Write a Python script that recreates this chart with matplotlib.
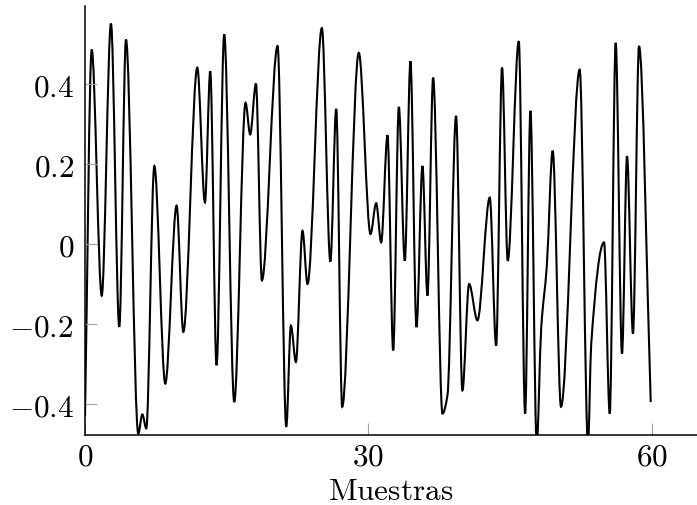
import numpy as np
import matplotlib
matplotlib.use('Agg')
import matplotlib.pyplot as plt
from matplotlib.path import Path
from matplotlib.patches import PathPatch

plt.rcParams['mathtext.fontset'] = 'cm'
plt.rcParams['font.family'] = 'serif'

# values (sample position, amplitude)
muestras = [0.0, 0.71, 1.77, 2.75, 3.63, 4.34, 5.64, 6.07, 6.49, 7.34, 8.50,
            9.70, 10.41, 11.89, 12.70, 13.26, 13.93, 14.74, 15.80, 17.00, 17.49,
            18.10, 18.73, 20.39, 21.31, 21.80, 22.33, 23.03, 23.56, 25.08, 25.98,
            26.60, 27.23, 28.99, 30.23, 30.83, 31.36, 32.03, 32.63, 33.23, 33.86,
            34.46, 35.10, 35.73, 36.26, 36.86, 37.85, 38.38, 39.29, 39.96, 40.67,
            41.55, 42.86, 43.53, 44.16, 44.76, 45.93, 46.60, 47.16, 47.83, 48.30,
            48.90, 49.52, 50.40, 52.38, 53.26, 53.60, 54.96, 55.56, 56.19, 56.86,
            57.39, 58.02, 58.66, 59.90]
amplitud = [-0.430, 0.486, -0.129, 0.551, -0.207, 0.511, -0.474, -0.426, -0.461, 0.195, -0.349,
            0.096, -0.220, 0.441, 0.104, 0.432, -0.303, 0.524, -0.395, 0.353, 0.274,
            0.401, -0.091, 0.495, -0.457, -0.204, -0.295, 0.033, -0.100, 0.540, -0.044,
            0.338, -0.407, 0.478, 0.025, 0.102, 0.004, 0.272, -0.266, 0.343, -0.042,
            0.457, -0.208, 0.195, -0.129, 0.416, -0.424, -0.378, 0.320, -0.366, -0.100,
            -0.191, 0.116, -0.254, 0.441, -0.042, 0.507, -0.424, 0.333, -0.500, -0.212,
            -0.054, 0.233, -0.407, 0.436, -0.500, -0.250, 0.004, -0.424, 0.503, -0.274,
            0.220, -0.224, 0.495, -0.395]

xticks = [0, 30, 60]
yticks = [-0.4, -0.2, 0, 0.2, 0.4]
ytick_labels = ['$-0.4$', '$-0.2$', '$0$', '$0.2$', '$0.4$']


def smooth_path(x, y):
    # smooth line through the points (like pgfplots "smooth"), drawn as bezier curves
    x = np.asarray(x, float)
    y = np.asarray(y, float)
    h = np.diff(x)
    d = np.diff(y) / h
    m = np.zeros_like(y)
    m[0], m[-1] = d[0], d[-1]
    for i in range(1, len(x) - 1):
        if d[i - 1] * d[i] > 0:
            w1 = 2 * h[i] + h[i - 1]
            w2 = h[i] + 2 * h[i - 1]
            m[i] = (w1 + w2) / (w1 / d[i - 1] + w2 / d[i])
    verts = [(x[0], y[0])]
    codes = [Path.MOVETO]
    for i in range(len(x) - 1):
        verts += [(x[i] + h[i] / 3, y[i] + m[i] * h[i] / 3),
                  (x[i + 1] - h[i] / 3, y[i + 1] - m[i + 1] * h[i] / 3),
                  (x[i + 1], y[i + 1])]
        codes += [Path.CURVE4] * 3
    return Path(verts, codes)


fig = plt.figure(figsize=(6.97, 5.06), dpi=100)
ax = fig.add_axes([85 / 697, 70 / 506, 612 / 697, 429 / 506])

ax.add_patch(PathPatch(smooth_path(muestras, amplitud), facecolor='none',
                       edgecolor='black', lw=1.5))

ax.set_xlim(0, 64.8)
ax.set_ylim(-0.4775, 0.595)

ax.spines['top'].set_visible(False)
ax.spines['right'].set_visible(False)
ax.spines['left'].set_linewidth(1.1)
ax.spines['bottom'].set_linewidth(1.1)

ax.set_xticks(xticks)
ax.set_xticklabels(['$%d$' % t for t in xticks])
ax.set_yticks(yticks)
ax.set_yticklabels(ytick_labels)
ax.tick_params(direction='in', length=8.6, width=0.8, color='#a0a0a0',
               labelsize=22.5, labelcolor='black')
ax.tick_params(axis='x', pad=4)
ax.tick_params(axis='y', pad=8)

ax.set_xlabel('$\\mathrm{Muestras}$', fontsize=22.5)
ax.xaxis.set_label_coords(0.5, -0.093)

plt.savefig('out.png', dpi=100)
